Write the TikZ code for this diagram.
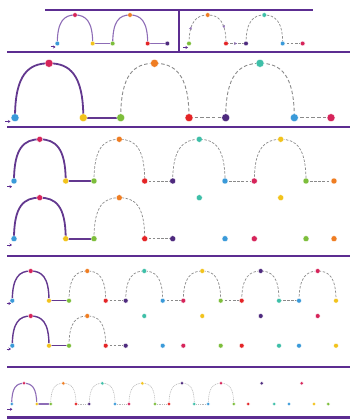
\documentclass[tikz,border=0pt]{standalone}
\usetikzlibrary{decorations.markings,arrows.meta}
\definecolor{frame}{HTML}{5C2D91}
\definecolor{cblue}{HTML}{3A9AD9}
\definecolor{ccrim}{HTML}{D6245A}
\definecolor{cyell}{HTML}{F2C31C}
\definecolor{cgreen}{HTML}{7DBE3B}
\definecolor{corange}{HTML}{EF7D22}
\definecolor{cred}{HTML}{E42426}
\definecolor{cpurp}{HTML}{4E2A7E}
\definecolor{cteal}{HTML}{3EBFA8}
\definecolor{solidp}{HTML}{63388F}
\definecolor{lightp}{HTML}{8D6CB6}
\definecolor{dashg}{HTML}{8A8A8A}
\definecolor{dotg}{HTML}{B8B8B8}
\pgfdeclarelayer{bg}
\pgfsetlayers{bg,main}
% style, b1, top, b2, vertical control, horizontal control
\newcommand\archpath[6]{%
  \draw[#1] (#2.center) .. controls +(0,-#5) and +(-#6,0) .. (#3.center)
    .. controls +(#6,0) and +(0,-#5) .. (#4.center);}
\tikzset{
  dot/.style={circle,fill=#1,inner sep=0pt,draw=white,line width=0.3pt},
  framel/.style={frame,line width=2.8pt},
  solidl/.style={solidp,line width=1.8pt},
  lightl/.style={lightp,line width=1.1pt},
  dashl/.style={dashg,line width=0.9pt,dash pattern=on 3.5pt off 2.2pt},
  dashs/.style={dashg,line width=0.7pt,dash pattern=on 2.5pt off 1.6pt},
  dotl/.style={dotg,line width=0.6pt,dash pattern=on 1pt off 0.8pt},
  startarr/.style={frame,line width=1pt,-{Stealth[length=2.5pt,width=3pt]}},
  flowmarks/.style={postaction={decorate},decoration={markings,
    mark=at position 0.22 with {\arrow[lightp,solid]{Stealth[length=3pt,width=3pt]}},
    mark=at position 0.8 with {\arrow[lightp,solid]{Stealth[length=3pt,width=3pt]}}}},
  midmark/.style={postaction={decorate},decoration={markings,
    mark=at position 0.55 with {\arrow[lightp,solid]{Stealth[length=3pt,width=3pt]}}}}
}
\begin{document}
\begin{tikzpicture}[x=1pt,y=-1pt]
\useasboundingbox (0,0) rectangle (350,419);
% frame lines
\draw[framel] (45,10) -- (313,10);
\draw[framel] (179,10) -- (179,52);
\draw[framel] (7,52) -- (350,52);
\draw[framel] (7,127) -- (350,127);
\draw[framel] (7,256) -- (350,256);
\draw[framel] (7,367) -- (350,367);
\draw[framel] (7,417.5) -- (350,417.5);

% ---------- section 1 ----------
\begin{scope}[every node/.append style={minimum size=4.6pt}]
\foreach \n/\x/\y/\c in {l1/57.3/43.5/cblue,l2/75/15/ccrim,l3/92.7/43.5/cyell,l4/112.7/43.5/cgreen,
  l5/130/15/corange,l6/147.7/43.5/cred,l7/167.3/43.5/cpurp,
  r1/189/43.5/cgreen,r2/207.7/15/corange,r3/226/43.5/cred,r4/246/43.5/cpurp,
  r5/264.3/15/cteal,r6/282.7/43.5/cblue,r7/302.7/43.5/ccrim}
  \node[dot=\c] (\n) at (\x,\y) {};
\end{scope}
\coordinate (la1) at (50.5,47);
\coordinate (la2) at (55.5,47);
\coordinate (ra1) at (183,47.5);
\coordinate (ra2) at (188,47.5);
\begin{pgfonlayer}{bg}
\archpath{lightl}{l1}{l2}{l3}{22.6}{10.6}
\draw[lightl] (l3.center) -- (l4.center);
\archpath{lightl}{l4}{l5}{l6}{22.6}{10.6}
\draw[lightl] (l6.center) -- (l7.center);
\archpath{dashs,flowmarks}{r1}{r2}{r3}{22.6}{10.6}
\draw[dashs,midmark] (r3.center) -- (r4.center);
\archpath{dashs}{r4}{r5}{r6}{22.6}{10.6}
\draw[dashs] (r6.center) -- (r7.center);
\end{pgfonlayer}
\draw[startarr] (la1) -- (la2);
\draw[startarr] (ra1) -- (ra2);

% ---------- section 2 ----------
\begin{scope}[every node/.append style={minimum size=8pt}]
\foreach \n/\x/\y/\c in {m1/15/117.7/cblue,m2/49/63.3/ccrim,m3/83.3/117.7/cyell,m4/120.7/117.7/cgreen,
  m5/154.5/63.3/corange,m6/189/117.7/cred,m7/225.7/117.7/cpurp,m8/260/63.3/cteal,
  m9/294.3/117.7/cblue,m10/331/117.7/ccrim}
  \node[dot=\c] (\n) at (\x,\y) {};
\end{scope}
\coordinate (ma1) at (5,121.5);
\coordinate (ma2) at (10.5,121.5);
\begin{pgfonlayer}{bg}
\archpath{solidl}{m1}{m2}{m3}{43.5}{20.4}
\draw[solidl] (m3.center) -- (m4.center);
\archpath{dashl}{m4}{m5}{m6}{43.5}{20.4}
\draw[dashl] (m6.center) -- (m7.center);
\archpath{dashl}{m7}{m8}{m9}{43.5}{20.4}
\draw[dashl] (m9.center) -- (m10.center);
\end{pgfonlayer}
\draw[startarr] (ma1) -- (ma2);

% ---------- section 3 ----------
\begin{scope}[every node/.append style={minimum size=6pt}]
\foreach \n/\x/\y/\c in {a1/14/181/cblue,a2/39.7/139.3/ccrim,a3/65.7/181/cyell,a4/94/181/cgreen,
  a5/119.3/139.3/corange,a6/144.7/181/cred,a7/172.7/181/cpurp,a8/199.3/139.3/cteal,
  a9/225/181/cblue,a10/254.3/181/ccrim,a11/280.7/139.3/cyell,a12/306/181/cgreen,a13/334/181/corange,
  b1/14/238.7/cblue,b2/39.7/197.7/ccrim,b3/65.7/238.7/cyell,b4/94/238.7/cgreen,
  b5/119.3/197.7/corange,b6/144.7/238.7/cred,b7/172.7/238.7/cpurp,b8/199.3/197.7/cteal,
  b9/225/238.7/cblue,b10/254.3/238.7/ccrim,b11/280.7/197.7/cyell,b12/306/238.7/cgreen,b13/334/238.7/corange}
  \node[dot=\c] (\n) at (\x,\y) {};
\end{scope}
\coordinate (aa1) at (7,186.7);
\coordinate (aa2) at (12,186.7);
\coordinate (ba1) at (7,245);
\coordinate (ba2) at (12,245);
\begin{pgfonlayer}{bg}
\archpath{solidl}{a1}{a2}{a3}{33.4}{15.5}
\draw[solidl] (a3.center) -- (a4.center);
\archpath{dashs}{a4}{a5}{a6}{33.4}{15.5}
\draw[dashs] (a6.center) -- (a7.center);
\archpath{dashs}{a7}{a8}{a9}{33.4}{15.5}
\draw[dashs] (a9.center) -- (a10.center);
\archpath{dashs}{a10}{a11}{a12}{33.4}{15.5}
\draw[dashs] (a12.center) -- (a13.center);
\archpath{solidl}{b1}{b2}{b3}{33.4}{15.5}
\draw[solidl] (b3.center) -- (b4.center);
\archpath{dashs}{b4}{b5}{b6}{33.4}{15.5}
\draw[dashs] (b6.center) -- (b7.center);
\end{pgfonlayer}
\draw[startarr] (aa1) -- (aa2);
\draw[startarr] (ba1) -- (ba2);

% ---------- section 4 ----------
\begin{scope}[every node/.append style={minimum size=4.8pt}]
\foreach \n/\x/\y/\c in {c1/12.3/300.7/cblue,c2/30.7/271/ccrim,c3/49/300.7/cyell,c4/69/300.7/cgreen,
  c5/87.3/271/corange,c6/105.7/300.7/cred,c7/125.7/300.7/cpurp,c8/144.3/271/cteal,
  c9/162.7/300.7/cblue,c10/183.3/300.7/ccrim,c11/202.3/271/cyell,c12/220.7/300.7/cgreen,
  c13/241.7/300.7/cred,c14/260.7/271/cpurp,c15/279/300.7/cteal,c16/299/300.7/cblue,
  c17/317.7/271/ccrim,c18/336/300.7/cyell,
  d1/12.3/345.7/cblue,d2/30.7/316/ccrim,d3/49/345.7/cyell,d4/69/345.7/cgreen,
  d5/87.3/316/corange,d6/105.7/345.7/cred,d7/125.7/345.7/cpurp,d8/144.3/316/cteal,
  d9/162.7/345.7/cblue,d10/183.3/345.7/ccrim,d11/202.3/316/cyell,d12/220.7/345.7/cgreen,
  d13/241.7/345.7/cred,d14/260.7/316/cpurp,d15/279/345.7/cteal,d16/299/345.7/cblue,
  d17/317.7/316/ccrim,d18/336/345.7/cyell}
  \node[dot=\c] (\n) at (\x,\y) {};
\end{scope}
\coordinate (ca1) at (6.5,303.5);
\coordinate (ca2) at (11,303.5);
\coordinate (da1) at (6.5,349);
\coordinate (da2) at (11,349);
\begin{pgfonlayer}{bg}
\archpath{solidl,line width=1.4pt}{c1}{c2}{c3}{23.8}{11}
\draw[solidl,line width=1.4pt] (c3.center) -- (c4.center);
\archpath{dashs}{c4}{c5}{c6}{23.8}{11}
\draw[dashs] (c6.center) -- (c7.center);
\archpath{dashs}{c7}{c8}{c9}{23.8}{11}
\draw[dashs] (c9.center) -- (c10.center);
\archpath{dashs}{c10}{c11}{c12}{23.8}{11}
\draw[dashs] (c12.center) -- (c13.center);
\archpath{dashs}{c13}{c14}{c15}{23.8}{11}
\draw[dashs] (c15.center) -- (c16.center);
\archpath{dashs}{c16}{c17}{c18}{23.8}{11}
\archpath{solidl,line width=1.4pt}{d1}{d2}{d3}{23.8}{11}
\draw[solidl,line width=1.4pt] (d3.center) -- (d4.center);
\archpath{dashs}{d4}{d5}{d6}{23.8}{11}
\draw[dashs] (d6.center) -- (d7.center);
\end{pgfonlayer}
\draw[startarr] (ca1) -- (ca2);
\draw[startarr] (da1) -- (da2);

% ---------- section 5 ----------
\begin{scope}[every node/.append style={minimum size=3.8pt}]
\foreach \n/\x/\y/\c in {e1/11.7/404/cblue,e2/24/383.3/ccrim,e3/36.7/404/cyell,e4/50.7/404/cgreen,
  e5/63.3/383.3/corange,e6/76/404/cred,e7/89.3/404/cpurp,e8/102.3/383.3/cteal,
  e9/115/404/cblue,e10/129/404/ccrim,e11/142.3/383.3/cyell,e12/155/404/cgreen,
  e13/169/404/cred,e14/182/383.3/cpurp,e15/194.3/404/cteal,e16/208.3/404/cblue,
  e17/221/383.3/ccrim,e18/233.7/404/cgreen,
  e19/248.3/404/cred,e20/261.7/383.3/cpurp,e21/274.3/404/cteal,e22/289/404/cblue,
  e23/301.7/383.3/ccrim,e24/314/404/cyell,e25/328.3/404/cgreen}
  \node[dot=\c] (\n) at (\x,\y) {};
\end{scope}
\coordinate (ea1) at (7,409.3);
\coordinate (ea2) at (12.5,409.3);
\begin{pgfonlayer}{bg}
\archpath{lightl}{e1}{e2}{e3}{16.6}{7.6}
\draw[lightl] (e3.center) -- (e4.center);
\archpath{dotl}{e4}{e5}{e6}{16.6}{7.6}
\draw[dotl] (e6.center) -- (e7.center);
\archpath{dotl}{e7}{e8}{e9}{16.6}{7.6}
\draw[dotl] (e9.center) -- (e10.center);
\archpath{dotl}{e10}{e11}{e12}{16.6}{7.6}
\draw[dotl] (e12.center) -- (e13.center);
\archpath{dotl}{e13}{e14}{e15}{16.6}{7.6}
\draw[dotl] (e15.center) -- (e16.center);
\archpath{dotl}{e16}{e17}{e18}{16.6}{7.6}
\end{pgfonlayer}
\draw[startarr,line width=1.4pt] (ea1) -- (ea2);
\end{tikzpicture}
\end{document}
